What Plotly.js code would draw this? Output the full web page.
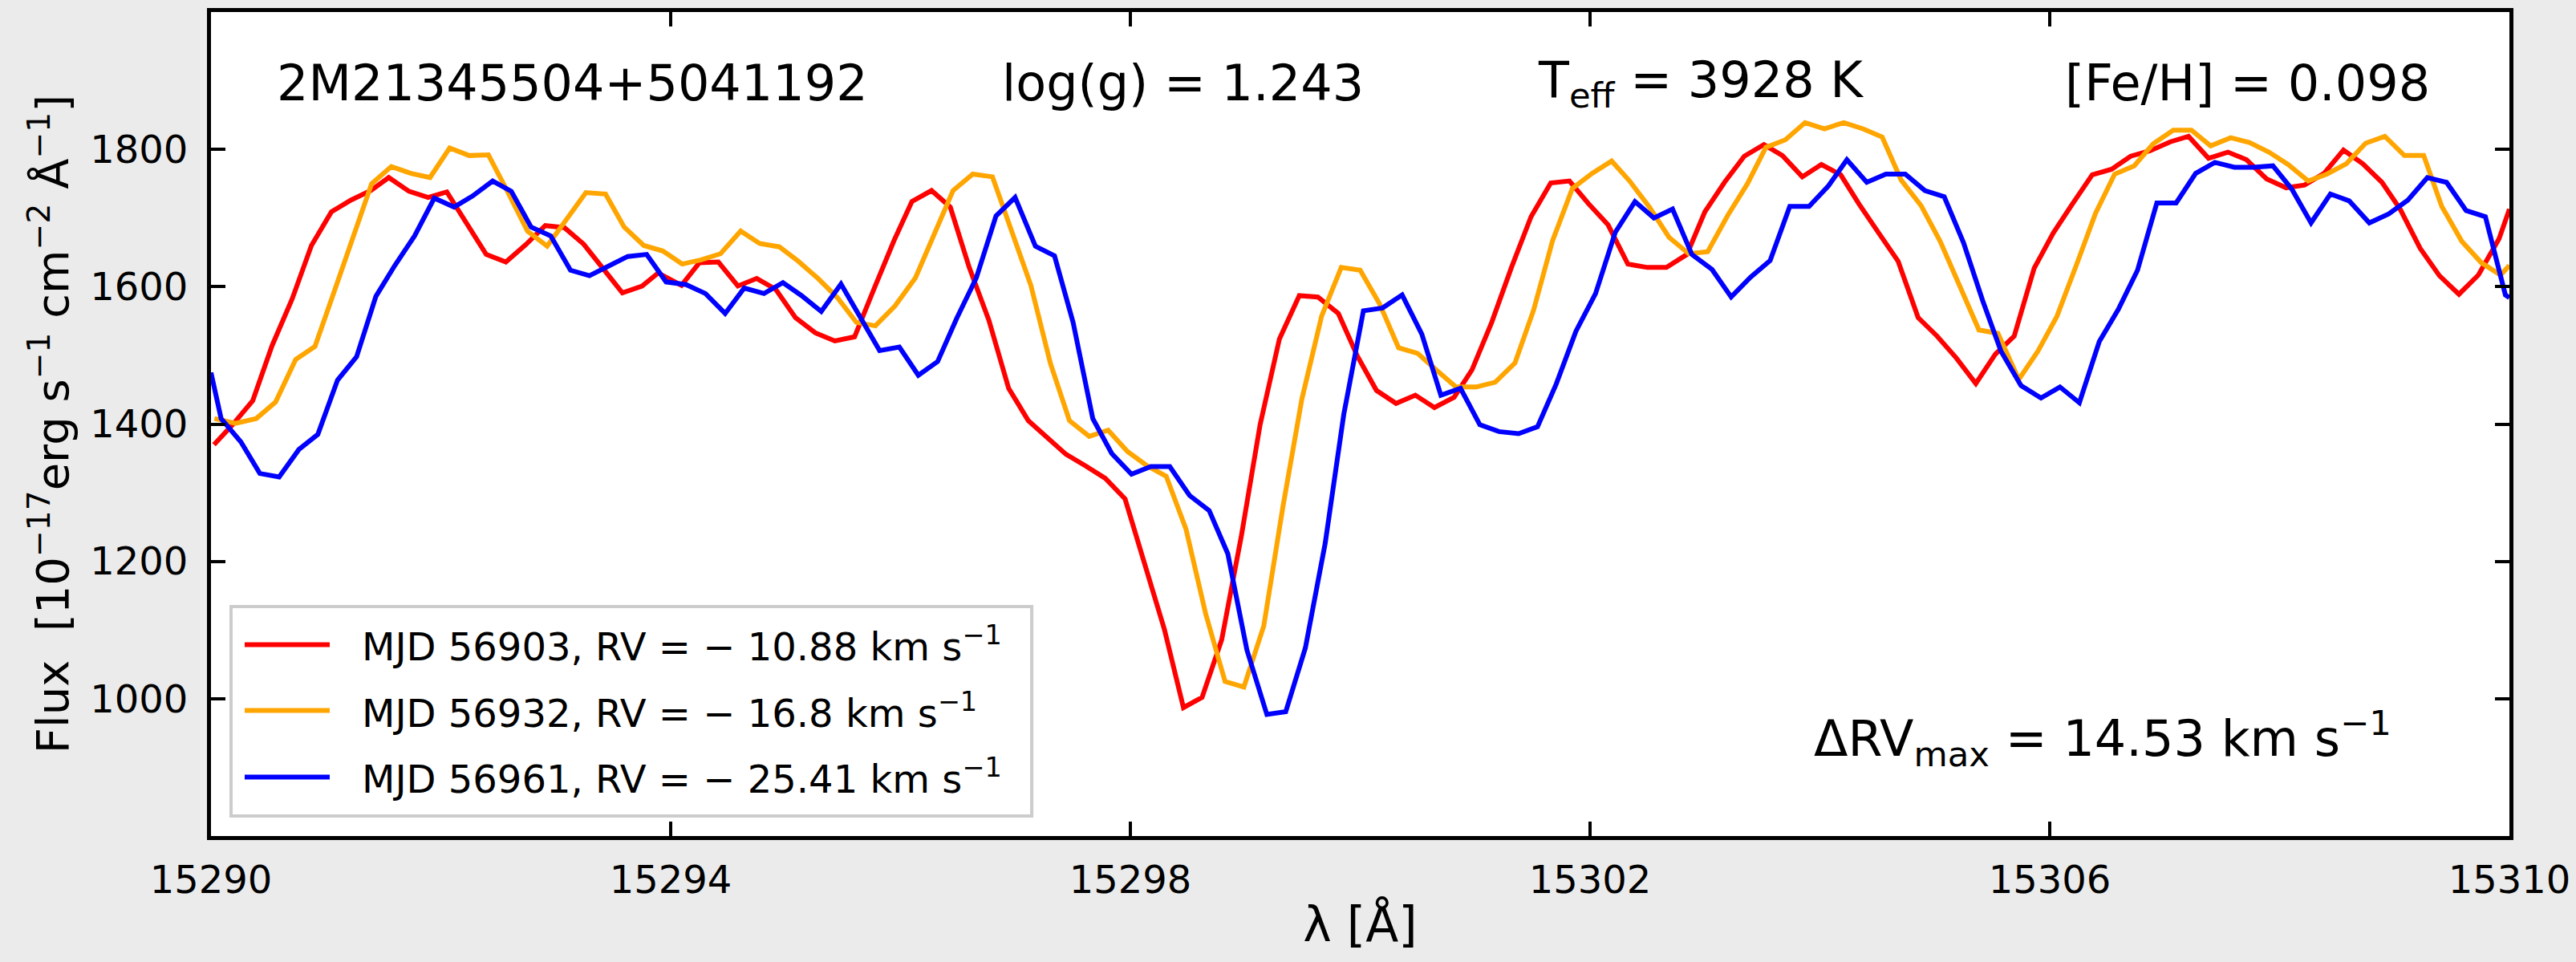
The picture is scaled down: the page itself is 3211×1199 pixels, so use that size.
<!DOCTYPE html>
<html><head><meta charset="utf-8">
<script src="https://cdn.plot.ly/plotly-3.0.1.min.js"></script>
<style>html,body{margin:0;padding:0;background:#ebebeb;}#chart{width:3211px;height:1199px;}</style>
</head><body><div id="chart"></div>
<script>
// ---- data ----
const redWave = [15290.026,15290.188,15290.363,15290.531,15290.706,15290.874,15291.048,15291.217,15291.391,15291.547,15291.722,15291.890,15292.052,15292.224,15292.395,15292.566,15292.738,15292.909,15293.075,15293.243,15293.418,15293.580,15293.751,15293.891,15294.094,15294.250,15294.415,15294.585,15294.749,15294.915,15295.086,15295.257,15295.429,15295.600,15295.772,15295.943,15296.099,15296.270,15296.433,15296.598,15296.769,15296.941,15297.112,15297.268,15297.439,15297.611,15297.782,15297.954,15298.125,15298.296,15298.462,15298.624,15298.795,15298.967,15299.129,15299.297,15299.470,15299.632,15299.810,15299.975,15300.141,15300.312,15300.480,15300.646,15300.817,15300.973,15301.144,15301.316,15301.487,15301.658,15301.821,15301.986,15302.157,15302.329,15302.500,15302.665,15302.843,15302.999,15303.170,15303.342,15303.513,15303.674,15303.847,15304.013,15304.181,15304.342,15304.513,15304.681,15304.855,15305.020,15305.188,15305.357,15305.528,15305.691,15305.865,15306.030,15306.199,15306.370,15306.538,15306.704,15306.872,15307.050,15307.208,15307.382,15307.550,15307.712,15307.887,15308.057,15308.217,15308.387,15308.556,15308.724,15308.891,15309.049,15309.223,15309.391,15309.561,15309.730,15309.910,15310.000];
const redFlux = [1370,1399,1434,1514,1582,1660,1709,1726,1740,1759,1739,1730,1738,1691,1647,1636,1661,1689,1686,1662,1625,1591,1601,1620,1602,1635,1636,1601,1612,1596,1555,1533,1521,1527,1598,1667,1724,1740,1716,1628,1551,1452,1405,1382,1356,1339,1321,1291,1196,1101,987,1002,1086,1238,1399,1524,1587,1585,1561,1499,1449,1430,1442,1424,1439,1479,1548,1628,1702,1751,1754,1721,1690,1633,1628,1628,1647,1709,1752,1790,1807,1791,1760,1778,1763,1720,1678,1637,1555,1528,1496,1459,1502,1528,1627,1678,1721,1763,1771,1790,1798,1811,1819,1787,1796,1785,1757,1744,1748,1765,1799,1779,1752,1713,1656,1616,1589,1617,1670,1713];

const orangeWave = [15290.030,15290.213,15290.394,15290.562,15290.737,15290.905,15291.070,15291.235,15291.398,15291.569,15291.741,15291.906,15292.077,15292.246,15292.414,15292.582,15292.754,15292.925,15293.087,15293.262,15293.433,15293.595,15293.766,15293.932,15294.100,15294.265,15294.434,15294.609,15294.774,15294.946,15295.111,15295.282,15295.451,15295.616,15295.781,15295.952,15296.130,15296.302,15296.457,15296.629,15296.800,15296.965,15297.134,15297.305,15297.470,15297.642,15297.807,15297.975,15298.147,15298.312,15298.484,15298.655,15298.824,15298.988,15299.161,15299.327,15299.492,15299.664,15299.835,15300.000,15300.169,15300.334,15300.499,15300.661,15300.833,15301.010,15301.175,15301.347,15301.509,15301.674,15301.846,15302.017,15302.188,15302.344,15302.516,15302.687,15302.859,15303.024,15303.195,15303.370,15303.530,15303.700,15303.871,15304.040,15304.208,15304.374,15304.542,15304.708,15304.881,15305.047,15305.215,15305.384,15305.549,15305.731,15305.897,15306.063,15306.231,15306.399,15306.565,15306.735,15306.900,15307.075,15307.233,15307.400,15307.575,15307.737,15307.907,15308.074,15308.249,15308.412,15308.581,15308.749,15308.916,15309.086,15309.254,15309.411,15309.586,15309.755,15309.923,15310.000];
const orangeFlux = [1408,1401,1408,1432,1494,1513,1592,1672,1750,1775,1765,1759,1802,1791,1792,1738,1681,1659,1697,1737,1735,1687,1660,1652,1633,1639,1648,1681,1663,1658,1637,1612,1584,1548,1543,1572,1613,1679,1740,1764,1760,1682,1602,1488,1405,1382,1391,1360,1339,1324,1247,1124,1025,1017,1106,1279,1436,1557,1628,1624,1575,1511,1503,1479,1454,1454,1461,1489,1566,1667,1743,1765,1783,1754,1716,1672,1648,1651,1703,1750,1803,1814,1839,1830,1839,1830,1818,1755,1718,1666,1602,1537,1532,1465,1506,1557,1631,1707,1764,1776,1808,1828,1828,1805,1817,1810,1796,1778,1754,1764,1779,1809,1819,1791,1791,1717,1666,1635,1617,1631];

const blueWave = [15290.000,15290.088,15290.260,15290.425,15290.593,15290.765,15290.930,15291.101,15291.267,15291.435,15291.600,15291.772,15291.943,15292.115,15292.276,15292.451,15292.613,15292.785,15292.956,15293.128,15293.293,15293.461,15293.626,15293.791,15293.960,15294.134,15294.303,15294.474,15294.640,15294.812,15294.977,15295.139,15295.310,15295.482,15295.647,15295.818,15295.990,15296.155,15296.323,15296.489,15296.660,15296.831,15296.997,15297.174,15297.340,15297.502,15297.673,15297.838,15298.010,15298.178,15298.343,15298.515,15298.686,15298.848,15299.014,15299.188,15299.352,15299.523,15299.695,15299.857,15300.028,15300.194,15300.365,15300.536,15300.702,15300.873,15301.041,15301.207,15301.378,15301.543,15301.705,15301.877,15302.048,15302.219,15302.391,15302.556,15302.718,15302.886,15303.062,15303.228,15303.397,15303.567,15303.738,15303.906,15304.075,15304.235,15304.408,15304.574,15304.743,15304.914,15305.082,15305.250,15305.416,15305.576,15305.750,15305.924,15306.089,15306.258,15306.431,15306.597,15306.764,15306.932,15307.100,15307.270,15307.437,15307.607,15307.775,15307.942,15308.107,15308.274,15308.442,15308.606,15308.781,15308.949,15309.116,15309.286,15309.453,15309.623,15309.791,15309.965,15310.000];
const blueFlux = [1475,1408,1374,1328,1323,1363,1385,1464,1498,1586,1631,1674,1729,1716,1732,1754,1739,1687,1674,1624,1616,1630,1644,1647,1607,1603,1590,1561,1598,1590,1606,1587,1564,1604,1557,1507,1512,1471,1491,1554,1613,1703,1730,1659,1645,1548,1408,1357,1327,1338,1338,1296,1274,1211,1071,977,981,1074,1226,1414,1565,1569,1588,1531,1442,1452,1399,1389,1386,1396,1458,1535,1590,1679,1724,1700,1713,1647,1625,1585,1614,1638,1717,1717,1747,1785,1752,1764,1764,1740,1731,1664,1580,1506,1456,1438,1454,1431,1520,1567,1624,1722,1722,1765,1781,1774,1774,1776,1742,1693,1735,1725,1693,1706,1726,1759,1752,1711,1702,1588,1584];

const seriesNames = ['MJD 56903, RV = − 10.88 km s<sup>−1</sup>',
                     'MJD 56932, RV = − 16.8 km s<sup>−1</sup>',
                     'MJD 56961, RV = − 25.41 km s<sup>−1</sup>'];
const seriesColors = ['#ff0000', '#ffa500', '#0000ff'];
const xTicks = [15290, 15294, 15298, 15302, 15306, 15310];
const yTicks = [1000, 1200, 1400, 1600, 1800];
const xRange = [15290, 15310];
const yRange = [800, 2000];
const headerTexts = ['2M21345504+5041192', 'log(g) = 1.243', 'T<sub>eff</sub> = 3928 K', '[Fe/H] = 0.098'];
const deltaText = 'ΔRV<sub>max</sub> = 14.53 km s<sup>−1</sup>';

// ---- figure ----
const FONT = 'DejaVu Sans';
const waves = [redWave, orangeWave, blueWave];
const fluxes = [redFlux, orangeFlux, blueFlux];
const traces = waves.map((w, i) => ({
  type: 'scatter', mode: 'lines', x: w, y: fluxes[i], name: seriesNames[i],
  line: {color: seriesColors[i], width: 6}, showlegend: false, hoverinfo: 'skip'
}));

const axisCommon = {
  showline: true, linecolor: '#000', linewidth: 5, mirror: 'ticks',
  ticks: 'inside', ticklen: 18, tickwidth: 4, tickcolor: '#000',
  showgrid: false, zeroline: false,
  tickfont: {family: FONT, size: 48, color: '#000'}
};

const annotations = [];
const headerX = [0.1574, 0.4227, 0.6482, 0.8862];
headerTexts.forEach((t, i) => annotations.push({
  xref: 'paper', yref: 'paper', x: headerX[i], y: 0.914, xanchor: 'center', yanchor: 'middle',
  text: t, showarrow: false, font: {family: FONT, size: 62, color: '#000'}
}));
annotations.push({xref: 'paper', yref: 'paper', x: 0.823, y: 0.118, xanchor: 'center', yanchor: 'middle',
  text: deltaText, showarrow: false, font: {family: FONT, size: 62, color: '#000'}});

// legend drawn as a framed box
const shapes = [{type: 'rect', xref: 'paper', yref: 'paper', x0: 0.00873, x1: 0.3571, y0: 0.0243, y1: 0.2785,
  line: {color: '#cccccc', width: 4}, fillcolor: '#ffffff', layer: 'above'}];
const rowY = [0.2323, 0.1523, 0.0716];
seriesNames.forEach((n, i) => {
  shapes.push({type: 'line', xref: 'paper', yref: 'paper', x0: 0.01466, x1: 0.05166, y0: rowY[i], y1: rowY[i],
    line: {color: seriesColors[i], width: 6}, layer: 'above'});
  annotations.push({xref: 'paper', yref: 'paper', x: 0.0649, y: rowY[i], xanchor: 'left', yanchor: 'middle',
    text: n, showarrow: false, font: {family: FONT, size: 48, color: '#000'}});
});

const layout = {
  width: 3211, height: 1199,
  margin: {l: 263, r: 83, t: 15, b: 157, pad: 0},
  paper_bgcolor: '#ebebeb', plot_bgcolor: '#ffffff',
  font: {family: FONT, color: '#000'},
  showlegend: false,
  xaxis: Object.assign({}, axisCommon, {
    range: xRange, tickvals: xTicks, ticktext: xTicks.map(String), ticklabelstandoff: 8,
    title: {text: 'λ [Å]', font: {family: FONT, size: 60, color: '#000'}, standoff: 10}
  }),
  yaxis: Object.assign({}, axisCommon, {
    range: yRange, tickvals: yTicks, ticktext: yTicks.map(String), ticklabelstandoff: 14,
    title: {text: 'Flux  [10<sup>−17</sup>erg s<sup>−1</sup> cm<sup>−2</sup> Å<sup>−1</sup>]',
            font: {family: FONT, size: 56, color: '#000'}, standoff: 10}
  }),
  annotations: annotations,
  shapes: shapes
};

Plotly.newPlot('chart', traces, layout, {staticPlot: true, displayModeBar: false});
</script>
</body></html>
